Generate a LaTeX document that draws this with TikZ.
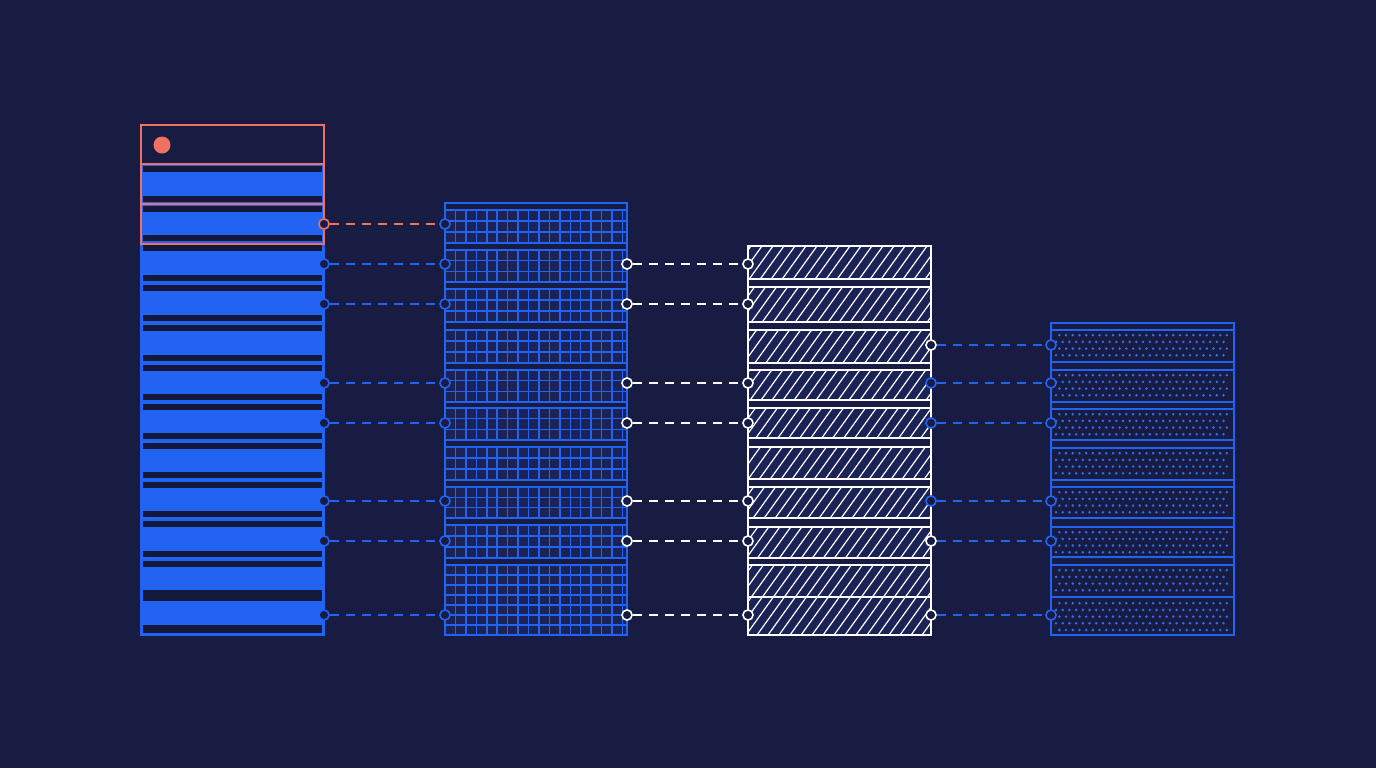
\documentclass[tikz,border=0pt]{standalone}
\usepackage{tikz}
\definecolor{bgnavy}{RGB}{24,28,66}
\definecolor{barnavy}{RGB}{20,25,60}
\definecolor{cellnavy}{RGB}{27,34,86}
\definecolor{rowblue}{RGB}{35,99,242}
\definecolor{dotblue}{RGB}{48,110,240}
\definecolor{linkred}{RGB}{240,112,98}

\begin{document}
\begin{tikzpicture}[x=0.75pt,y=0.75pt,yscale=-1,xscale=1,
  port/.style={circle,draw,line width=1.2pt,fill=bgnavy,minimum size=7.6pt,inner sep=0pt},
  link/.style={line width=1.1pt,dash pattern=on 6.75pt off 5.25pt},
  frame/.style={line width=1.4pt},
  band/.style={fill=bgnavy,line width=1.1pt},
  gridline/.style={rowblue,line width=1.1pt},
  hatchline/.style={white,line width=0.9pt}]
\useasboundingbox (0,0) rectangle (1376,768);
\fill[bgnavy] (0,0) rectangle (1376,768);

%Column 1: solid rows
\fill[rowblue] (141,164) rectangle (324,635);
\foreach \b in {204,243,283,323,363,402,441,480,519,559} {
  \fill[barnavy] (143,\b-8) rectangle (322,\b-2);
  \fill[barnavy] (143,\b+2) rectangle (322,\b+8);
}
\fill[barnavy] (143,166) rectangle (322,172);
\fill[barnavy] (143,590) rectangle (322,601);
\fill[barnavy] (143,625) rectangle (322,633);
\draw[rowblue,frame] (141,164) rectangle (324,635);
%Column 1: red header
\fill[bgnavy] (141,125) rectangle (324,164);
\draw[linkred,frame] (141,125) rectangle (324,164);
\draw[linkred,frame] (141,164) rectangle (324,204);
\draw[linkred,frame] (141,204) rectangle (324,244);
\fill[linkred] (162,145) circle (8.5);

%Column 2: grid rows
\fill[cellnavy] (445,203) rectangle (627,635);
\foreach \i in {1,...,17}
  \draw[gridline] (445+10.44*\i,203) -- (445+10.44*\i,635);
\foreach \t/\u/\n in {210/243/3,250/282/3,289/322/3,330/363/3,370/402/3,408/440/3,447/480/3,487/518/3,525/558/3,565/635/7}
  \foreach \k in {1,...,\n}
    \draw[gridline] (445,{\t+(\u-\t)*\k/\n}) -- (627,{\t+(\u-\t)*\k/\n});
\foreach \t/\u in {203/210,243/250,282/289,322/330,363/370,402/408,440/447,480/487,518/525,558/565}
  \filldraw[band,draw=rowblue] (445,\t) rectangle (627,\u);
\draw[rowblue,frame] (445,203) rectangle (627,635);

%Column 3: hatched rows
\fill[cellnavy] (748,246) rectangle (931,635);
\begin{scope}
  \clip (748,246) rectangle (931,635);
  \foreach \x in {460,471,...,940}
    \draw[hatchline] (\x,635) -- (\x+280,246);
\end{scope}
\foreach \t/\u in {279/287,322/330,363/370,400/408,438/447,479/487,518/527,558/565}
  \filldraw[band,draw=white] (748,\t) rectangle (931,\u);
\draw[white,line width=1.1pt] (748,597) -- (931,597);
\draw[white,frame] (748,246) rectangle (931,635);

%Column 4: dotted rows
\fill[bgnavy] (1051,323) rectangle (1234,635);
\foreach \t/\n in {330/4,370/4,409/4,448/4,487/4,527/4,565/4,598/5}
  \foreach \r in {1,...,\n}
    \foreach \c in {0,...,25}
      \fill[dotblue] ({1056+6.7*\c+3.35*mod(\r,2)},{\t+6.7*\r-1.5}) circle (1.4);
\foreach \t/\u in {323/330,362/370,402/409,440/448,480/487,518/527,557/565}
  \filldraw[band,draw=rowblue] (1051,\t) rectangle (1234,\u);
\draw[rowblue,line width=1.1pt] (1051,597) -- (1234,597);
\draw[rowblue,frame] (1051,323) rectangle (1234,635);

%Ports
\foreach \y [count=\i] in {224,264,304,383,423,501,541,615} {
  \node[port,draw=rowblue] (pa\i) at (324,\y) {};
  \node[port,draw=rowblue] (pb\i) at (445,\y) {};
}
\node[port,draw=linkred] (pa1) at (324,224) {};
\foreach \y [count=\i] in {264,304,383,423,501,541,615} {
  \node[port,draw=white] (pc\i) at (627,\y) {};
  \node[port,draw=white] (pd\i) at (748,\y) {};
}
\foreach \y/\c [count=\i] in {345/white,383/rowblue,423/rowblue,501/rowblue,541/white,615/white} {
  \node[port,draw=\c] (pe\i) at (931,\y) {};
  \node[port,draw=rowblue] (pf\i) at (1051,\y) {};
}

%Links
\draw[link,linkred] (pa1) -- (pb1);
\foreach \i in {2,...,8}
  \draw[link,rowblue] (pa\i) -- (pb\i);
\foreach \i in {1,...,7}
  \draw[link,white] (pc\i) -- (pd\i);
\foreach \i in {1,...,6}
  \draw[link,rowblue] (pe\i) -- (pf\i);

\end{tikzpicture}
\end{document}
